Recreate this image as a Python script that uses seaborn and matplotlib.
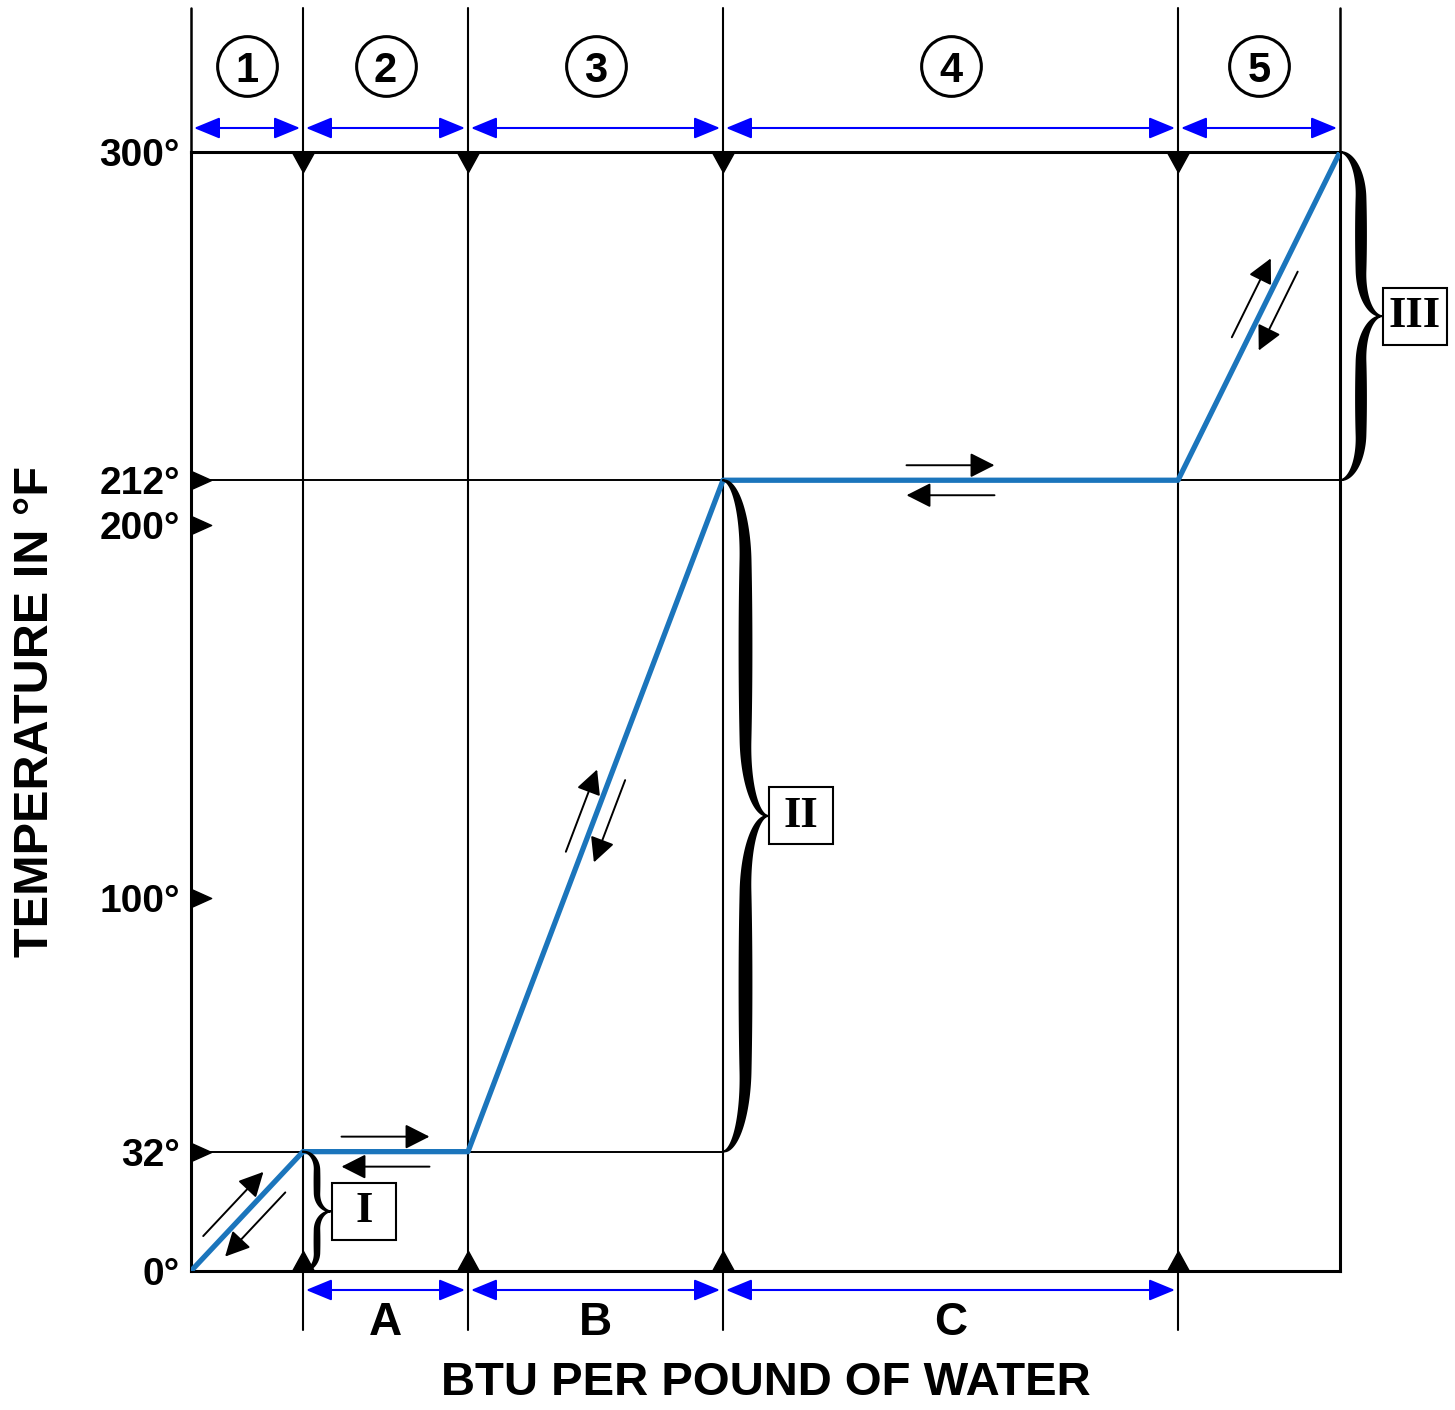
import numpy as np
import pandas as pd
import seaborn as sns
import matplotlib.pyplot as plt
from matplotlib.patches import Polygon, Rectangle

# heating curve of water (x widths, no scale shown)
seg_widths = [112, 165, 255, 455, 162]
btu = [0, 112, 277, 532, 987, 1149]
temp_f = [0, 32, 32, 212, 212, 300]
ytick_vals = [0, 32, 100, 200, 212, 300]
ytick_labels = ["0°", "32°", "100°", "200°", "212°", "300°"]
marker_temps = [32, 100, 200, 212]
region_nums = ["1", "2", "3", "4", "5"]
phase_letters = ["A", "B", "C"]
roman = ["I", "II", "III"]

sns.set_theme(style="white")
plt.rcParams["font.family"] = ["Liberation Sans", "DejaVu Sans"]
for k in ["text.color", "axes.labelcolor", "xtick.color", "ytick.color"]:
    plt.rcParams[k] = "black"

fig = plt.figure(figsize=(14.55, 14.10), dpi=100)
ax = fig.add_axes([191 / 1455, 139 / 1410, 1149 / 1455, 1119 / 1410])
ppd = 1119 / 300  # pixels per degree


def dy(px):
    return px / ppd


ax.set_xlim(0, 1149)
ax.set_ylim(0, 300)

df = pd.DataFrame({"BTU": btu, "Temp": temp_f})
sns.lineplot(data=df, x="BTU", y="Temp", sort=False, color="#1b75bc",
             linewidth=3.8, ax=ax, zorder=4)

# grid lines
ax.plot([0, btu[3]], [32, 32], color="black", lw=1.4, zorder=2)
ax.plot([0, btu[5]], [212, 212], color="black", lw=1.4, zorder=2)
for x in btu[1:-1]:
    ax.plot([x, x], [300 + dy(144), -dy(59)], color="black", lw=1.5,
            clip_on=False, zorder=2)
for x in [btu[0], btu[-1]]:
    ax.plot([x, x], [300 + dy(144), 0], color="black", lw=1.8,
            clip_on=False, zorder=2)

for sp in ax.spines.values():
    sp.set_color("black")
    sp.set_linewidth(2.2)

# triangles
tri_down = [(-0.55, 0), (0.55, 0), (0, -1), (-0.55, 0)]
tri_up = [(-0.55, 0), (0.55, 0), (0, 1), (-0.55, 0)]
tri_right = [(0, -0.45), (0, 0.45), (1, 0), (0, -0.45)]
ax.plot(btu[1:-1], [300] * 4, ls="", marker=tri_down, ms=29, color="black",
        clip_on=False, zorder=5)
ax.plot(btu[1:-1], [0] * 4, ls="", marker=tri_up, ms=29, color="black",
        clip_on=False, zorder=5)
ax.plot([0] * 4, marker_temps, ls="", marker=tri_right, ms=29, color="black",
        clip_on=False, zorder=5)

# circled region numbers and blue span arrows
centers = [(btu[i] + btu[i + 1]) / 2 for i in range(5)]
ax.plot(centers, [300 + dy(86)] * 5, ls="", marker="o", ms=43, mfc="white",
        mec="black", mew=2.2, clip_on=False, zorder=5)
for c, n in zip(centers, region_nums):
    ax.text(c, 300 + dy(70), n, ha="center", va="baseline", fontsize=30,
            fontweight="bold", zorder=6)

blue_arrow = dict(arrowstyle="<|-|>,head_length=0.8,head_width=0.33",
                  mutation_scale=20, color="#0000ff", lw=1.5,
                  shrinkA=0, shrinkB=0)
for i in range(5):
    ax.annotate("", xy=(btu[i + 1] - 3, 300 + dy(24)),
                xytext=(btu[i] + 3, 300 + dy(24)),
                arrowprops=blue_arrow, annotation_clip=False)
for i, lt in zip([1, 2, 3], phase_letters):
    ax.annotate("", xy=(btu[i + 1] - 3, -dy(19)), xytext=(btu[i] + 3, -dy(19)),
                arrowprops=blue_arrow, annotation_clip=False)
    ax.text(centers[i], -dy(64), lt, ha="center", va="baseline", fontsize=33,
            fontweight="bold")

# small direction arrows along each segment
black_arrow = dict(arrowstyle="-|>,head_length=0.75,head_width=0.38",
                   mutation_scale=20, color="black", lw=1.4,
                   shrinkA=0, shrinkB=0)
shifts = [-4, 0, 0, 0, 13]
for i in range(5):
    p0 = np.array([btu[i], temp_f[i] * ppd])
    p1 = np.array([btu[i + 1], temp_f[i + 1] * ppd])
    d = (p1 - p0) / np.linalg.norm(p1 - p0)
    n = np.array([-d[1], d[0]])
    mid = (p0 + p1) / 2 + d * shifts[i]
    for side in (1, -1):
        c = mid + n * 15 * side
        a = c - d * 44 * side
        b = c + d * 44 * side
        ax.annotate("", xy=(b[0], b[1] / ppd), xytext=(a[0], a[1] / ppd),
                    arrowprops=black_arrow, annotation_clip=False)


def brace(x0, t0, t1, depth, thick, r_end, r_tip):
    half = (t1 - t0) * ppd / 2
    mid = (t0 + t1) / 2
    u = np.linspace(-1, 1, 1601)
    v = np.abs(u)
    re = r_end / half
    rt = r_tip / half
    s1 = np.where(v <= 1 - re, 1.0,
                  np.sqrt(np.clip(1 - ((v - (1 - re)) / re) ** 2, 0, 1)))
    s2 = np.where(v >= rt, 0.0,
                  1 - np.sqrt(np.clip(1 - ((rt - v) / rt) ** 2, 0, 1)))
    xo = depth * 0.5 * (s1 + s2)
    tk = 1.5 + (thick - 1.5) * np.sin(np.pi * v) ** 0.5
    yy = mid + u * half / ppd
    xs = np.concatenate([x0 + xo + tk / 2, (x0 + xo - tk / 2)[::-1]])
    ys = np.concatenate([yy, yy[::-1]])
    ax.add_patch(Polygon(np.column_stack([xs, ys]), closed=True, fc="black",
                         ec="black", lw=1.3, clip_on=False, zorder=5))
    return x0 + depth + 1, mid


brace_specs = [(btu[1], 0, 32, 28, 5, 18, 18),
               (btu[3], 32, 212, 45, 12, 80, 75),
               (btu[5], 212, 300, 42, 10, 45, 45)]
for spec, rn in zip(brace_specs, roman):
    tip_x, mid_t = brace(*spec)
    ax.add_patch(Rectangle((tip_x, mid_t - dy(28.5)), 64, dy(57), fc="white",
                           ec="black", lw=1.5, clip_on=False, zorder=6))
    ax.text(tip_x + 32, mid_t, rn, ha="center", va="center", fontsize=32,
            fontweight="bold", family="Liberation Serif", zorder=7)

ax.set_xticks([])
ax.set_yticks(ytick_vals)
ax.set_yticklabels(ytick_labels, fontsize=28, fontweight="bold")
ax.tick_params(axis="y", length=0, pad=8)

ax.set_xlabel("BTU PER POUND OF WATER", fontsize=34, fontweight="bold")
ax.xaxis.set_label_coords(0.5, -0.080)
ax.set_ylabel("TEMPERATURE IN °F", fontsize=35, fontweight="bold")
ax.yaxis.set_label_coords(-0.116, 0.5)

fig.savefig("out.png", dpi=100)
